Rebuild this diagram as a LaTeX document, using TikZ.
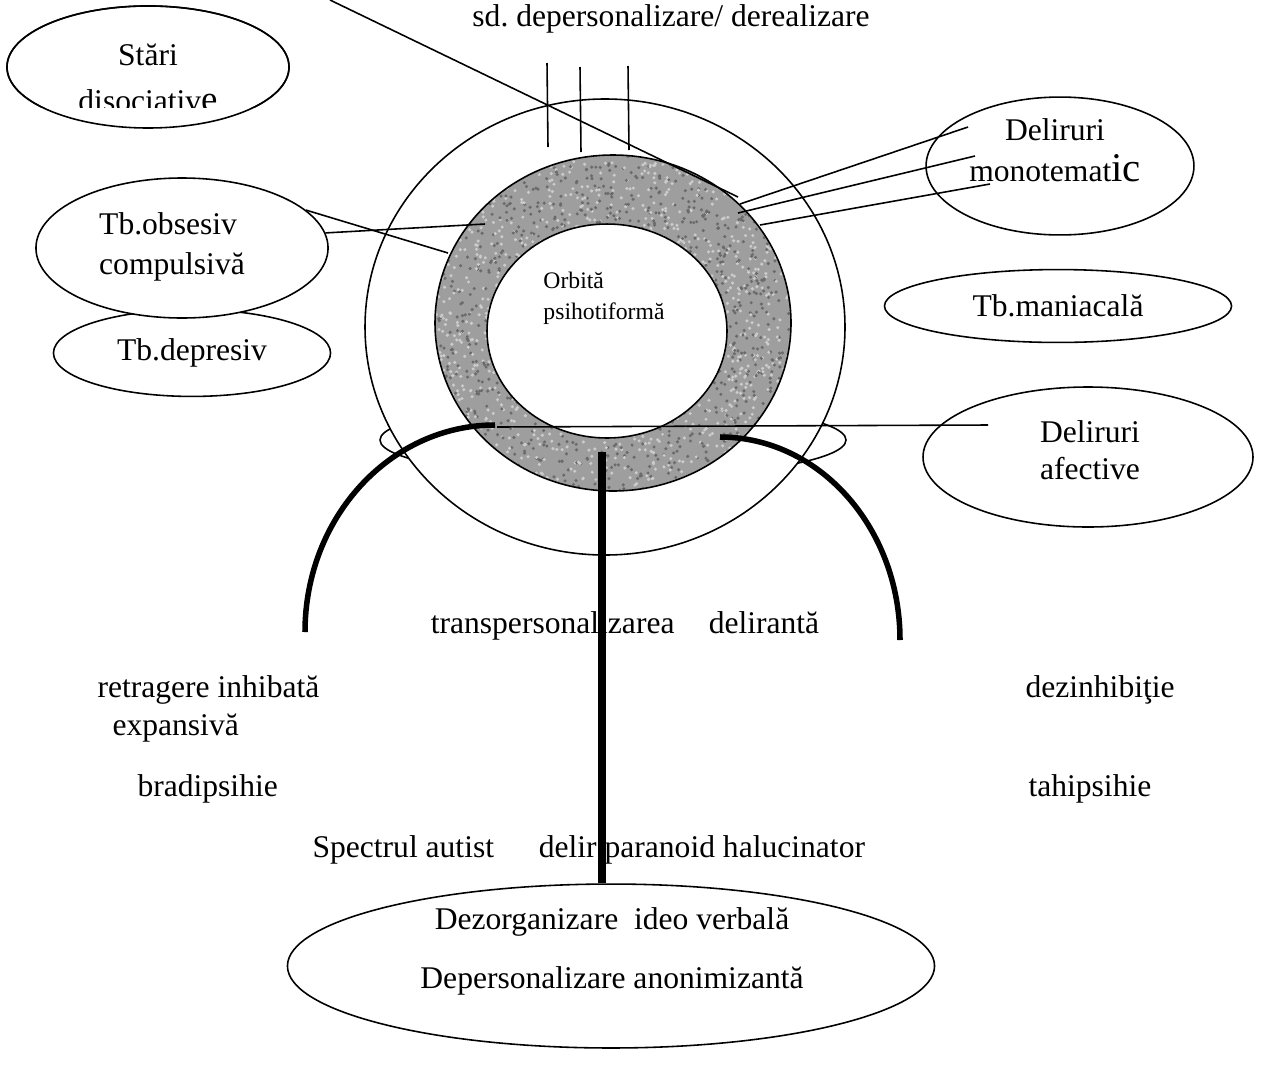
\documentclass[tikz,border=0pt]{standalone}
\usepackage{fontspec}
\setmainfont{Liberation Serif}
\usetikzlibrary{shapes.geometric,positioning}

\tikzset{
  bubble/.style={draw, ellipse, fill=white, inner sep=0pt, align=center,
    line width=0.6pt, font=\fontsize{12}{15.5}\selectfont},
  txt/.style={inner sep=0pt, align=center, font=\fontsize{12}{15.5}\selectfont},
  lbl/.style={font=\fontsize{12}{14}\selectfont, anchor=base, inner sep=0pt},
  thinline/.style={line width=0.6pt},
  boldarc/.style={line width=2.1pt},
}

\begin{document}
\begin{tikzpicture}[x=0.38pt, y=-0.38pt]
\useasboundingbox (0,0) rectangle (1264,1075);

% ================= CENTRE: ORBITS =================
% ellipse behind the outer orbit
\draw[thinline] (613,440) ellipse (233 and 38);

% outer orbit
\draw[thinline, fill=white] (605,327) ellipse (240 and 228);

% grey ring
\begin{scope}
\clip (613,323) ellipse (178 and 168);
\fill[black!38] (430,150) rectangle (800,500);
\pgfmathsetseed{11}
\foreach \i in {1,...,1500} {
  \fill[black!58] ({430+370*rnd},{150+350*rnd}) circle[radius=0.65pt];
  \fill[black!20] ({430+370*rnd},{150+350*rnd}) circle[radius=0.65pt];
}
\end{scope}
\draw[thinline] (613,323) ellipse (178 and 168);

% inner orbit
\node[draw, thinline, ellipse, fill=white, inner sep=0pt,
  minimum width=91.2pt, minimum height=81.3pt] (orbit) at (607,331) {};
\node[font=\fontsize{9}{11.8}\selectfont, align=left] (orbitlbl) at (604,298)
  {Orbită\\psihotiformă};

% Strokes on top
\coordinate (diagA) at (330,0);
\coordinate (diagB) at (738,197);
\draw[thinline] (diagA) -- (diagB);
\coordinate (tickA1) at (547,63);  \coordinate (tickA2) at (548,147);
\coordinate (tickB1) at (580,67);  \coordinate (tickB2) at (581,152);
\coordinate (tickC1) at (628,66);  \coordinate (tickC2) at (629,150);
\draw[thinline] (tickA1) -- (tickA2);
\draw[thinline] (tickB1) -- (tickB2);
\draw[thinline] (tickC1) -- (tickC2);

% ================= LEFT: BUBBLES =================
\begin{scope}
\clip (0,0) rectangle (300,107);
\node[bubble, minimum width=107.2pt, minimum height=46.4pt] (stari) at (148,67) {};
\node[lbl] (stari1) at (148,65) {Stări};
\node[lbl] (stari2) at (148,111) {disociativ{\fontsize{14}{14}\selectfont e}};
\end{scope}
\draw[thinline] (148,67) ellipse (141 and 61);

\node[bubble, minimum width=105.3pt, minimum height=33pt] (depr) at (192,353) {Tb.depresiv};
\node[bubble, minimum width=111pt, minimum height=53.2pt] (obs) at (182,248) {};
\node[txt, align=left] (obslbl) at (172,247) {Tb.obsesiv\\compulsivă};

\coordinate (ringO1) at (485,224);
\coordinate (ringO2) at (448,253);
\draw[thinline] (obs.6) -- (ringO1);
\draw[thinline] (obs.17) -- (ringO2);

% ================= RIGHT: BUBBLES =================
\node[bubble, minimum width=101.8pt, minimum height=52.4pt] (mono) at (1060,166) {};
\node[txt] (monolbl) at (1055,150) {Deliruri\\monotemat{\fontsize{15.5}{15.5}\selectfont ic}};
\coordinate (ringM1) at (740,204);  \coordinate (monoE1) at (968,127);
\coordinate (ringM2) at (738,213);  \coordinate (monoE2) at (975,156);
\coordinate (ringM3) at (760,225);  \coordinate (monoE3) at (990,184);
\draw[thinline] (ringM1) -- (monoE1);
\draw[thinline] (ringM2) -- (monoE2);
\draw[thinline] (ringM3) -- (monoE3);

\node[bubble, minimum width=131.9pt, minimum height=27.7pt] (mani) at (1058,306) {Tb.maniacală};

\node[bubble, minimum width=125.4pt, minimum height=53.2pt] (afect) at (1088,457) {};
\node[txt, font=\fontsize{12}{14}\selectfont] (afectlbl) at (1090,450) {Deliruri\\afective};
\coordinate (ringA) at (497,427);
\coordinate (afectE) at (988,425);
\draw[thinline] (ringA) -- (afectE);

% ================= BOTTOM =================
\node[bubble, minimum width=245.9pt, minimum height=62.3pt] (dez) at (611,966) {};
\node[txt] (dezlbl) at (612,951)
  {Dezorganizare\hspace{3pt} ideo verbală\\[7pt]Depersonalizare anonimizantă};

\node[lbl] (transp) at (625,633) {transpersonalizarea\hspace{10pt} delirantă};
\node[lbl, anchor=base west] (retrag) at (97,697) {retragere inhibată};
\node[lbl, anchor=base west] (expans) at (112,735) {expansivă};
\node[lbl, anchor=base west] (bradi) at (137,796) {bradipsihie};
\node[lbl, anchor=base west] (dezinh) at (1025,697) {dezinhibiţie};
\node[lbl, anchor=base west] (tahi) at (1028,796) {tahipsihie};
\node[lbl, anchor=base west] (spectr) at (312,857)
  {Spectrul autist\hspace{14pt} delir paranoid halucinator};
\node[lbl] (sdlbl) at (671,26) {sd.\ depersonalizare/ derealizare};

% thick arcs and axis
\coordinate (arcL) at (495,425);
\coordinate (arcR) at (720,437);
\coordinate (axisTop) at (602,452);
\draw[boldarc] (arcL) arc[start angle=-90, end angle=-180, x radius=190, y radius=207];
\draw[boldarc] (arcR) arc[start angle=-90, end angle=0, x radius=180, y radius=203];
\draw[line width=2.8pt] (axisTop) -- (axisTop |- dez.north);

\end{tikzpicture}
\end{document}
